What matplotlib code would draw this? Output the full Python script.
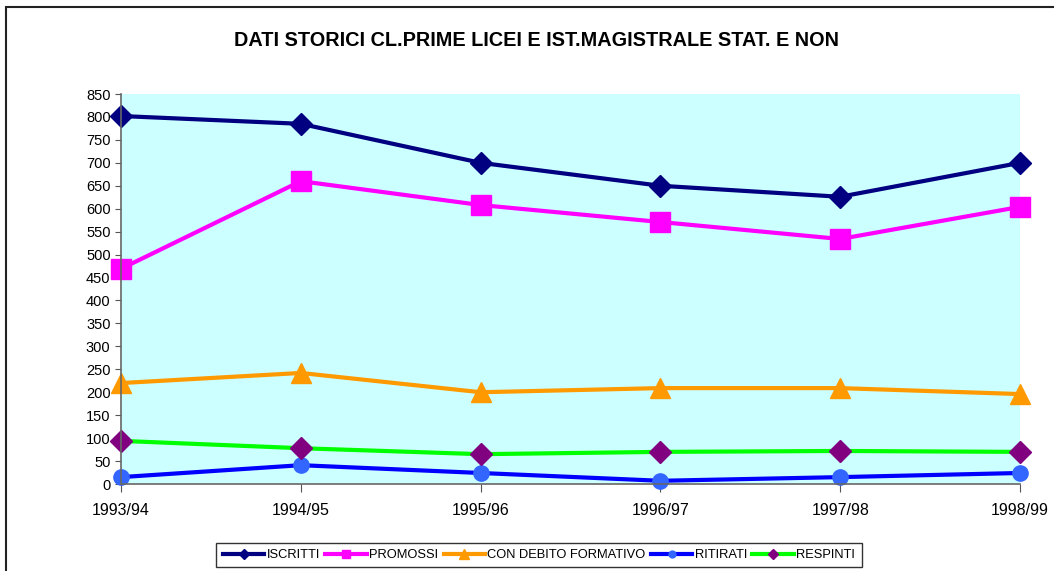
import matplotlib.pyplot as plt
from matplotlib.patches import Rectangle

plt.rcParams['font.family'] = ['Liberation Sans', 'DejaVu Sans']

# anni scolastici
anni = ["1993/94", "1994/95", "1995/96", "1996/97", "1997/98", "1998/99"]

# valori
iscritti = [802, 785, 700, 650, 626, 700]
promossi = [469, 660, 608, 571, 534, 604]
con_debito = [220, 242, 200, 209, 209, 196]
ritirati = [15, 41, 24, 7, 15, 24]
respinti = [94, 78, 65, 70, 72, 70]

fig = plt.figure(figsize=(10.54, 5.71), dpi=100)
ax = fig.add_axes([121/1054, 1-484/571, (1020-121)/1054, (484-94)/571])
ax.set_facecolor('#ccffff')

x = range(len(anni))
ax.plot(x, iscritti, color='#000080', lw=3, marker='D', ms=11, label='ISCRITTI')
ax.plot(x, promossi, color='#ff00ff', lw=3, marker='s', ms=14, label='PROMOSSI')
ax.plot(x, con_debito, color='#ff9900', lw=3, marker='^', ms=15, label='CON DEBITO FORMATIVO')
ax.plot(x, ritirati, color='#0000ff', lw=3, marker='o', ms=11,
        mfc='#3366ff', mec='#3366ff', label='RITIRATI')
ax.plot(x, respinti, color='#00ff00', lw=3, marker='D', ms=11,
        mfc='#800080', mec='#800080', label='RESPINTI')

ax.set_xlim(0, len(anni) - 1)
ax.set_ylim(0, 850)
ax.set_yticks(range(0, 851, 50))
ax.set_xticks(list(x))
ax.set_xticklabels(anni)
ax.tick_params(axis='y', labelsize=10.5, colors='black', length=4, color='#555555')
ax.tick_params(axis='x', labelsize=11.5, colors='black', pad=8, length=6, color='#555555')
for s in ['top', 'right']:
    ax.spines[s].set_visible(False)
for s in ['left', 'bottom']:
    ax.spines[s].set_color('#666666')
    ax.spines[s].set_linewidth(1.2)
for ln in ax.lines:
    ln.set_clip_on(False)

fig.text(536/1054, 1-40/571, "DATI STORICI CL.PRIME LICEI E IST.MAGISTRALE STAT. E NON",
         ha='center', va='center', fontsize=14.3, fontweight='bold')

leg = ax.legend(loc='center', bbox_to_anchor=(539/1054, 1-555/571), bbox_transform=fig.transFigure,
                ncol=5, fontsize=9.3, frameon=True, fancybox=False, markerscale=0.45,
                handlelength=3.2, handletextpad=0.2, columnspacing=0.4, borderpad=0.5)
leg.get_frame().set_edgecolor('black')
leg.get_frame().set_linewidth(1)
leg.get_frame().set_facecolor('white')

# cornice esterna
fig.patches.append(Rectangle((6/1054, -0.1), 1.2, 1 - 7/571 + 0.1, transform=fig.transFigure,
                             fill=False, edgecolor='#222222', lw=1.5))

fig.savefig('out.png', dpi=100)
